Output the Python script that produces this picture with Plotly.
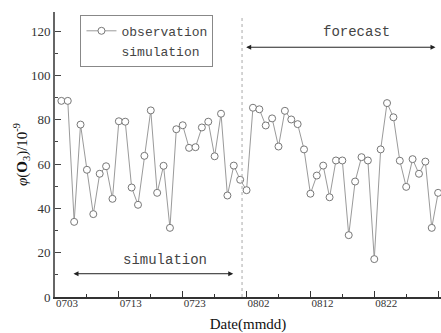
import plotly.graph_objects as go
import pandas as pd

# Data
start_date = "2019-07-04"
observation = [88.5, 88.5, 33.9, 77.8, 57.4, 37.4, 55.6, 59.0, 44.3, 79.3,
               79.1, 49.4, 41.6, 63.7, 84.2, 47.0, 59.2, 31.2, 75.7, 77.5,
               67.3, 67.6, 76.5, 79.1, 63.5, 82.7, 45.8, 59.3, 52.9, 48.2,
               85.4, 84.7, 77.4, 80.6, 67.9, 84.0, 80.1, 78.0, 66.6, 46.6,
               54.8, 59.3, 45.0, 61.6, 61.6, 27.9, 52.1, 63.1, 61.6, 17.1,
               66.6, 87.5, 81.1, 61.5, 49.7, 62.2, 55.6, 61.1, 31.2, 47.0]
dates = pd.date_range(start_date, periods=len(observation), freq="D")

tick_dates = ["2019-07-03", "2019-07-13", "2019-07-23", "2019-08-02",
              "2019-08-12", "2019-08-22", "2019-09-01"]
tick_labels = ["0703", "0713", "0723", "0802", "0812", "0822", ""]
y_ticks = [0, 20, 40, 60, 80, 100, 120]

split_date = "2019-08-01 07:00"
sim_arrow = ("2019-07-05 16:00", "2019-07-30 22:00", 10.5)
fc_arrow = ("2019-08-01 17:00", "2019-08-31 14:00", 112.7)

mono = "Liberation Mono"
serif = "Liberation Serif"

fig = go.Figure()
fig.add_trace(go.Scatter(
    x=dates, y=observation, mode="lines+markers", name="observation",
    line=dict(color="#9a9a9a", width=1),
    marker=dict(symbol="circle", size=7, color="white",
                line=dict(color="#777777", width=1)),
))
fig.add_trace(go.Scatter(
    x=[None], y=[None], mode="lines", name="simulation",
    line=dict(color="rgba(0,0,0,0)", width=0),
))

fig.add_shape(type="line", xref="x", yref="y",
              x0=split_date, x1=split_date, y0=0, y1=126,
              line=dict(color="#aaaaaa", width=1, dash="dot"))

for (a0, a1, yv) in [sim_arrow, fc_arrow]:
    fig.add_annotation(x=a1, y=yv, ax=a0, ay=yv, xref="x", yref="y",
                       axref="x", ayref="y", text="", showarrow=True,
                       arrowhead=2, arrowside="end+start", arrowsize=1,
                       arrowwidth=1, arrowcolor="#222222")

fig.add_annotation(x="2019-08-19 07:00", y=119.5, xref="x", yref="y",
                   text="forecast", showarrow=False,
                   font=dict(family=mono, size=14, color="#444444"))
fig.add_annotation(x="2019-07-20 07:00", y=16.5, xref="x", yref="y",
                   text="simulation", showarrow=False,
                   font=dict(family=mono, size=14, color="#444444"))

fig.update_layout(
    width=441, height=333,
    margin=dict(l=55, r=0, t=12, b=36),
    paper_bgcolor="white", plot_bgcolor="white",
    showlegend=True,
    legend=dict(x=0.066, y=0.99, xanchor="left", yanchor="top",
                bordercolor="#888888", borderwidth=1, bgcolor="white",
                font=dict(family=mono, size=13, color="#444444"),
                tracegroupgap=0),
    xaxis=dict(
        type="date",
        range=["2019-07-03", "2019-09-01 10:48"],
        tickvals=tick_dates, ticktext=tick_labels,
        ticks="inside", ticklen=6, tickwidth=1, tickcolor="#333333",
        ticklabelshift=12, ticklabelstandoff=-5,
        minor=dict(ticks="inside", ticklen=3, tickcolor="#333333",
                   dtick=5 * 86400000, tick0="2019-07-03"),
        showline=True, linewidth=2, linecolor="#333333",
        showgrid=False, zeroline=False,
        tickfont=dict(family=serif, size=11, color="#333333"),
        title=dict(text="Date(mmdd)", standoff=10,
                   font=dict(family=serif, size=15, color="#111111")),
    ),
    yaxis=dict(
        range=[0, 128.6],
        tickvals=y_ticks,
        ticks="inside", ticklen=6, tickwidth=1, tickcolor="#444444",
        minor=dict(ticks="inside", ticklen=3, tickcolor="#444444",
                   dtick=10, tick0=0),
        showline=True, linewidth=2, linecolor="#666666",
        showgrid=False, zeroline=False,
        tickfont=dict(family=serif, size=13, color="#333333"),
        title=dict(text="<i>φ</i>(<b>O</b><sub>3</sub>)/10<sup>-9</sup>",
                   standoff=0,
                   font=dict(family=serif, size=15, color="#111111")),
    ),
)

fig.write_html("out.html")
